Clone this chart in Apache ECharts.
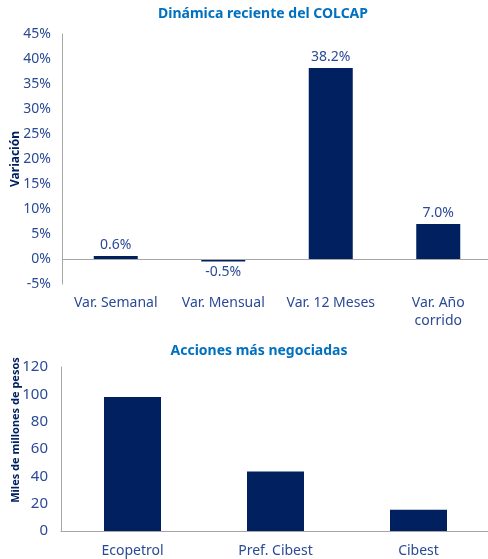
<!DOCTYPE html>
<html>
<head>
<meta charset="utf-8">
<script src="https://cdn.jsdelivr.net/npm/echarts@6/dist/echarts.min.js"></script>
<style>
  html, body { margin: 0; padding: 0; background: #fff; }
  #chart { width: 488px; height: 559px; }
</style>
</head>
<body>
<div id="chart"></div>
<script>
// datos del gráfico superior (variación COLCAP, %)
const varCategories = ['Var. Semanal', 'Var. Mensual', 'Var. 12 Meses', 'Var. Año\ncorrido']
const varValues = [0.6, -0.5, 38.2, 7.0]

// datos del gráfico inferior (miles de millones de pesos)
const accCategories = ['Ecopetrol', 'Pref. Cibest', 'Cibest']
const accValues = [98, 43.5, 15.5]

const barColor = '#002060'
const labelColor = '#2a4a96'
const axisGray = '#a6a6a6'
const font = 'Noto Sans'

const chart = echarts.init(document.getElementById('chart'))

const option = {
  textStyle: { fontFamily: font },
  title: [
    {
      text: 'Dinámica reciente del COLCAP',
      left: 258, top: 2, textAlign: 'center',
      textStyle: { color: '#0070c0', fontSize: 14, fontWeight: 'bold', fontFamily: font }
    },
    {
      text: 'Acciones más negociadas',
      left: 254, top: 339, textAlign: 'center',
      textStyle: { color: '#0070c0', fontSize: 14, fontWeight: 'bold', fontFamily: font }
    }
  ],
  grid: [
    { left: 62, top: 34, width: 430, height: 250, outerBoundsMode: 'none' },
    { left: 61, top: 367, width: 429, height: 164, outerBoundsMode: 'none' }
  ],
  xAxis: [
    {
      type: 'category', gridIndex: 0, data: varCategories,
      axisLine: { show: false }, axisTick: { show: false },
      axisLabel: { color: labelColor, fontSize: 14, margin: 10, lineHeight: 18, interval: 0 }
    },
    {
      type: 'category', gridIndex: 1, data: accCategories,
      axisLine: { lineStyle: { color: axisGray } }, axisTick: { show: false },
      axisLabel: { color: labelColor, fontSize: 14, margin: 13, interval: 0 }
    }
  ],
  yAxis: [
    {
      type: 'value', gridIndex: 0, min: -5, max: 45, interval: 5,
      name: 'Variación', nameLocation: 'middle', nameGap: 40, nameRotate: 90,
      nameMoveOverlap: false,
      nameTextStyle: { color: barColor, fontSize: 12, fontWeight: 'bold' },
      axisLine: { show: true, lineStyle: { color: axisGray } },
      axisTick: { show: false }, splitLine: { show: false },
      axisLabel: { color: labelColor, fontSize: 14, margin: 11, formatter: '{value}%' }
    },
    {
      type: 'value', gridIndex: 1, min: 0, max: 120, interval: 20,
      name: 'Miles de millones de pesos', nameLocation: 'middle', nameGap: 40, nameRotate: 90,
      nameMoveOverlap: false,
      nameTextStyle: { color: barColor, fontSize: 11, fontWeight: 'bold', padding: [0, 0, 0, 38] },
      axisLine: { show: true, lineStyle: { color: axisGray } },
      axisTick: { show: false }, splitLine: { show: false },
      axisLabel: { color: labelColor, fontSize: 15, margin: 13 }
    }
  ],
  series: [
    {
      type: 'bar', xAxisIndex: 0, yAxisIndex: 0, barWidth: 44,
      itemStyle: { color: barColor },
      data: varValues.map(v => ({
        value: v,
        label: { position: v < 0 ? 'bottom' : 'top' }
      })),
      label: {
        show: true, color: labelColor, fontSize: 14, distance: 4,
        formatter: p => p.value.toFixed(1) + '%'
      },
      markLine: {
        silent: true, symbol: 'none', label: { show: false },
        lineStyle: { color: axisGray, type: 'solid', width: 1 },
        data: [{ yAxis: 0 }]
      }
    },
    {
      type: 'bar', xAxisIndex: 1, yAxisIndex: 1, barWidth: 57,
      itemStyle: { color: barColor },
      data: accValues
    }
  ]
}

chart.setOption(option)
</script>
</body>
</html>
